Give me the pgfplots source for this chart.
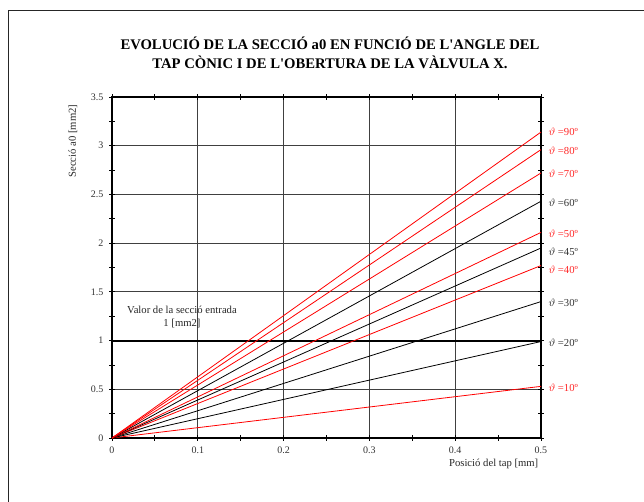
\documentclass[border=0pt]{standalone}
\usepackage{pgfplots}
\pgfplotsset{compat=1.18}
\usepackage{fontspec}
\setmainfont{Liberation Serif}
\begin{document}
\begin{tikzpicture}[x=0.75pt,y=0.75pt]
\useasboundingbox (-112,-64) rectangle (532,438);
\draw[line width=1.2pt, black!85] (-103.5,-80) -- (-103.5,427.5) -- (560,427.5);
\begin{axis}[
  at={(0,0)}, anchor=origin,
  scale only axis, width=321.75pt, height=255.75pt,
  xmin=0, xmax=0.5, ymin=0, ymax=3.5,
  xtick={0,0.1,0.2,0.3,0.4,0.5},
  ytick={0,0.5,1,1.5,2,2.5,3,3.5},
  xticklabels={0,0.1,0.2,0.3,0.4,0.5},
  yticklabels={0,0.5,1,1.5,2,2.5,3,3.5},
  minor x tick num=1, minor y tick num=1,
  tick align=center, major tick length=4pt, minor tick length=4pt,
  tick style={black, line width=0.6pt},
  grid=major, major grid style={black!75, line width=0.6pt},
  axis line style={black, line width=0.8pt},
  ticklabel style={font=\fontsize{7.5}{9}\selectfont, text=black!80},
  /pgf/number format/assume math mode=true,
  xticklabel style={yshift=-1pt},
  yticklabel style={xshift=-1pt},
  clip=false,
]
\addplot[black, line width=1.5pt] coordinates {(0,1) (0.5,1)};
\addplot[red, line width=0.6pt] coordinates {(0,0) (0.5,0.53)} node[pos=1,anchor=west,xshift=2pt,yshift=-1pt,text=red!85,font=\fontsize{8}{9}\selectfont]{$\vartheta$ =10º};
\addplot[black, line width=0.6pt] coordinates {(0,0) (0.5,0.99)} node[pos=1,anchor=west,xshift=2pt,yshift=-1pt,text=black!80,font=\fontsize{8}{9}\selectfont]{$\vartheta$ =20º};
\addplot[black, line width=0.6pt] coordinates {(0,0) (0.5,1.40)} node[pos=1,anchor=west,xshift=2pt,yshift=-1pt,text=black!80,font=\fontsize{8}{9}\selectfont]{$\vartheta$ =30º};
\addplot[red, line width=0.6pt] coordinates {(0,0) (0.5,1.77)} node[pos=1,anchor=west,xshift=2pt,yshift=-3pt,text=red!85,font=\fontsize{8}{9}\selectfont]{$\vartheta$ =40º};
\addplot[black, line width=0.6pt] coordinates {(0,0) (0.5,1.95)} node[pos=1,anchor=west,xshift=2pt,yshift=-3pt,text=black!80,font=\fontsize{8}{9}\selectfont]{$\vartheta$ =45º};
\addplot[red, line width=0.6pt] coordinates {(0,0) (0.5,2.11)} node[pos=1,anchor=west,xshift=2pt,yshift=-1pt,text=red!85,font=\fontsize{8}{9}\selectfont]{$\vartheta$ =50º};
\addplot[black, line width=0.6pt] coordinates {(0,0) (0.5,2.43)} node[pos=1,anchor=west,xshift=2pt,yshift=-1pt,text=black!80,font=\fontsize{8}{9}\selectfont]{$\vartheta$ =60º};
\addplot[red, line width=0.6pt] coordinates {(0,0) (0.5,2.72)} node[pos=1,anchor=west,xshift=2pt,yshift=-1pt,text=red!85,font=\fontsize{8}{9}\selectfont]{$\vartheta$ =70º};
\addplot[red, line width=0.6pt] coordinates {(0,0) (0.5,2.96)} node[pos=1,anchor=west,xshift=2pt,yshift=-1pt,text=red!85,font=\fontsize{8}{9}\selectfont]{$\vartheta$ =80º};
\addplot[red, line width=0.6pt] coordinates {(0,0) (0.5,3.14)} node[pos=1,anchor=west,xshift=2pt,yshift=0pt,text=red!85,font=\fontsize{8}{9}\selectfont]{$\vartheta$ =90º};
\node[align=center, font=\fontsize{8}{10}\selectfont, text=black!85] at (axis cs:0.0816,1.24) {Valor de la secció entrada\\1 [mm2]};
\end{axis}
\node[rotate=90, font=\fontsize{8}{9}\selectfont, text=black!85] at (-39,297) {Secció a0 [mm2]};
\node[anchor=east, font=\fontsize{8}{9}\selectfont, text=black!85] at (431,-26) {Posició del tap [mm]};
\node[align=center, font=\bfseries\fontsize{11}{14}\selectfont] at (218,385) {EVOLUCIÓ DE LA SECCIÓ a0 EN FUNCIÓ DE L\textquotesingle ANGLE DEL\\TAP CÒNIC I DE L\textquotesingle OBERTURA DE LA VÀLVULA X.};
\end{tikzpicture}
\end{document}
